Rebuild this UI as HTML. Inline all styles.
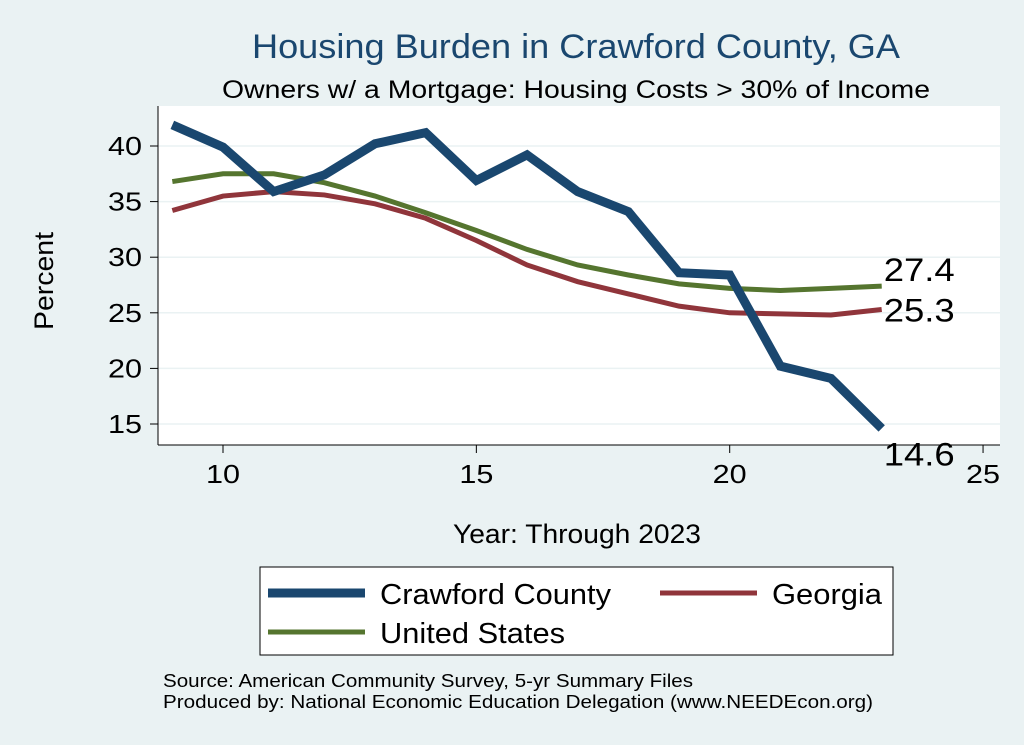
<!DOCTYPE html>
<html><head><meta charset="utf-8"><style>
body{margin:0;background:#eaf2f3;}
svg{display:block;font-family:"Liberation Sans",sans-serif;}
</style></head><body>
<svg id="chart" width="1024" height="745">
<rect x="0" y="0" width="1024" height="745" fill="#eaf2f3"/>
<text x="252" y="58" font-size="34" fill="#1a476f" textLength="648" lengthAdjust="spacingAndGlyphs">Housing Burden in Crawford County, GA</text>
<text x="222" y="98" font-size="25" fill="#000" textLength="708" lengthAdjust="spacingAndGlyphs">Owners w/ a Mortgage: Housing Costs &gt; 30% of Income</text>
<rect x="158" y="106" width="842" height="339" fill="#fff"/>
<g id="grid"></g>
<g id="axes"></g>
<g id="series"></g>
<text transform="translate(53,281) rotate(-90)" font-size="27" text-anchor="middle" textLength="98" lengthAdjust="spacingAndGlyphs">Percent</text>
<text x="453" y="543" font-size="27" textLength="248" lengthAdjust="spacingAndGlyphs">Year: Through 2023</text>
<g>
<rect x="260" y="567" width="633" height="88" fill="#fff" stroke="#000" stroke-width="1"/>
<line x1="268" y1="593" x2="365" y2="593" stroke="#1a476f" stroke-width="9"/>
<text x="380" y="604" font-size="29" textLength="231" lengthAdjust="spacingAndGlyphs">Crawford County</text>
<line x1="660" y1="593" x2="757" y2="593" stroke="#90353b" stroke-width="5"/>
<text x="772" y="604" font-size="29" textLength="110" lengthAdjust="spacingAndGlyphs">Georgia</text>
<line x1="268" y1="632" x2="365" y2="632" stroke="#55752f" stroke-width="5"/>
<text x="380" y="643" font-size="29" textLength="185" lengthAdjust="spacingAndGlyphs">United States</text>
</g>
<text x="163" y="687" font-size="18" textLength="530" lengthAdjust="spacingAndGlyphs">Source: American Community Survey, 5-yr Summary Files</text>
<text x="163" y="708" font-size="18" textLength="710" lengthAdjust="spacingAndGlyphs">Produced by: National Economic Education Delegation (www.NEEDEcon.org)</text>
</svg>
<script>
const years=[9,10,11,12,13,14,15,16,17,18,19,20,21,22,23];
const crawford=[41.9,39.9,35.9,37.4,40.2,41.2,36.9,39.2,35.9,34.1,28.6,28.4,20.2,19.1,14.6];
const georgia=[34.2,35.5,35.9,35.6,34.8,33.5,31.5,29.3,27.8,26.7,25.6,25.0,24.9,24.8,25.3];
const us=[36.8,37.5,37.5,36.7,35.5,34.0,32.4,30.7,29.3,28.4,27.6,27.2,27.0,27.2,27.4];
const xTicks=[10,15,20,25];
const yTicks=[15,20,25,30,35,40];
const NS="http://www.w3.org/2000/svg";
function X(v){return 223+(v-10)*50.67;}
function Y(v){return 424-(v-15)*11.12;}
function mk(tag,attrs,parent){const e=document.createElementNS(NS,tag);for(const k in attrs)e.setAttribute(k,attrs[k]);document.getElementById(parent).appendChild(e);return e;}
const axisY=445;
let e=mk('line',{x1:158,y1:106,x2:158,y2:axisY,stroke:'#000','stroke-width':1},'axes');


e=mk('line',{x1:158,y1:axisY,x2:1000,y2:axisY,stroke:'#000','stroke-width':1},'axes');


yTicks.forEach(t=>{
 let g=mk('line',{x1:158,y1:Y(t),x2:1000,y2:Y(t),stroke:'#eaf2f3','stroke-width':1.5},'grid');
 
 
 let k=mk('line',{x1:150,y1:Y(t),x2:158,y2:Y(t),stroke:'#000'},'axes');
 
 
 let l=mk('text',{x:142,y:Y(t)+9,'font-size':26,'text-anchor':'end',textLength:34,lengthAdjust:'spacingAndGlyphs'},'axes');l.textContent=t;
 
 
});
xTicks.forEach(t=>{
 let k=mk('line',{x1:X(t),y1:axisY,x2:X(t),y2:axisY+8,stroke:'#000'},'axes');
 
 
 let l=mk('text',{x:X(t)-17,y:483,'font-size':26,textLength:34,lengthAdjust:'spacingAndGlyphs'},'axes');l.textContent=t;
 
 
});
function line(data,color,w,name,ly){
 const p=mk('polyline',{points:data.map((v,i)=>X(years[i])+','+Y(v)).join(' '),fill:'none',stroke:color,'stroke-width':w,'stroke-linejoin':'miter'},'series');
 
 
 const last=data[data.length-1];
 const t=mk('text',{x:X(years[years.length-1])+2,y:Y(last)+ly,'font-size':32,textLength:71,lengthAdjust:'spacingAndGlyphs'},'series');t.textContent=last.toFixed(1);
 
 
}
line(georgia,'#90353b',5,'georgia',12);
line(us,'#55752f',5,'united-states',-5);
line(crawford,'#1a476f',9,'crawford',37);
</script>
</body></html>
